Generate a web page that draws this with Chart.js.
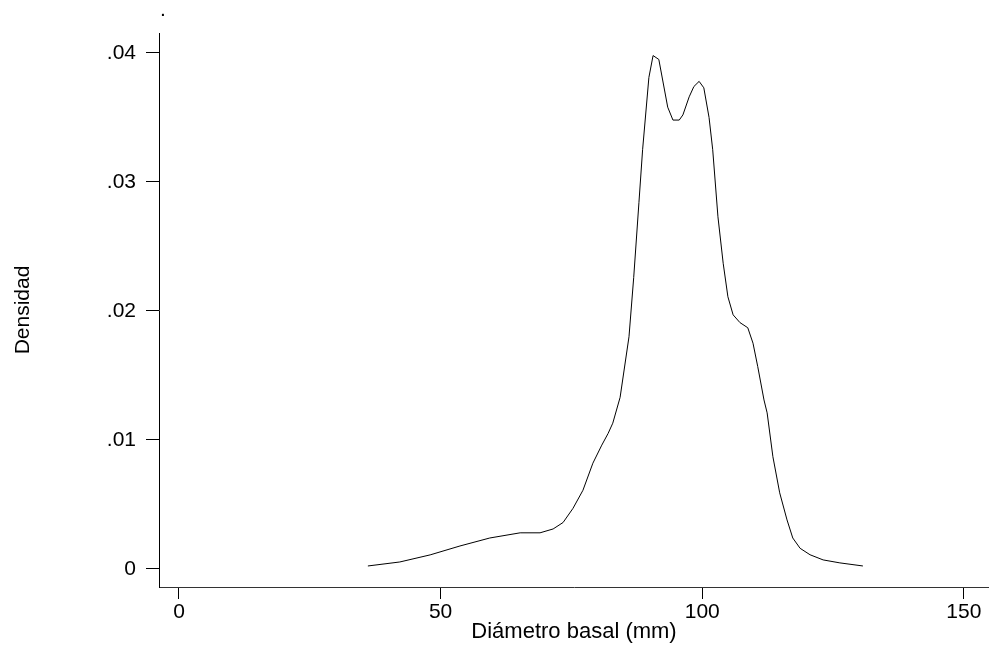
<!DOCTYPE html>
<html>
<head>
<meta charset="utf-8">
<script src="https://cdn.jsdelivr.net/npm/chart.js@4.4.1/dist/chart.umd.min.js"></script>
<style>
  html, body { margin: 0; padding: 0; background: #fff; }
  #wrap { width: 989px; height: 648px; position: relative; }
</style>
</head>
<body>
<div id="wrap"><canvas id="densityChart"></canvas></div>
<script>
// Diámetro basal (mm) -- densidad kernel
const diametro = [36.1, 42.2, 48.0, 53.7, 59.4, 65.2, 69.0, 71.5, 73.4, 75.3, 77.2, 79.1, 80.8, 82.0, 82.9, 84.3, 86.0, 86.9, 87.9, 88.6, 89.8, 90.6, 91.7, 93.4, 94.4, 95.6, 96.3, 97.5, 98.4, 99.4, 100.3, 101.3, 102.0, 103.0, 104.0, 104.9, 105.9, 107.2, 108.7, 109.7, 110.6, 111.8, 112.4, 113.5, 114.8, 116.2, 117.3, 118.7, 120.6, 123.1, 126.3, 130.7];
const densidad = [0.00023, 0.00054, 0.00109, 0.00178, 0.0024, 0.0028, 0.0028, 0.0031, 0.0036, 0.0047, 0.0061, 0.0082, 0.0096, 0.0105, 0.0113, 0.0133, 0.0180, 0.0226, 0.0284, 0.0325, 0.0381, 0.0398, 0.0395, 0.0358, 0.0348, 0.0348, 0.0352, 0.0366, 0.0374, 0.0378, 0.0373, 0.0350, 0.0325, 0.0273, 0.0237, 0.0211, 0.0197, 0.0191, 0.0187, 0.0175, 0.0157, 0.0131, 0.0121, 0.0087, 0.0059, 0.0038, 0.0024, 0.0016, 0.0011, 0.0007, 0.00047, 0.00023];
const xTicks = [0, 50, 100, 150];
const yTicks = [0, 0.01, 0.02, 0.03, 0.04];
const yTickLabels = ['0', '.01', '.02', '.03', '.04'];

const FONT = 'Liberation Sans, Arial, sans-serif';

// el punto suelto arriba a la izquierda (título vacío de Stata)
const dotTitle = {
  id: 'dotTitle',
  afterDraw(chart) {
    const c = chart.ctx;
    c.save();
    c.fillStyle = '#000';
    c.font = '21px ' + FONT;
    c.textBaseline = 'alphabetic';
    c.fillText('.', chart.chartArea.left + 1, 16);
    c.restore();
  }
};

const ctx = document.getElementById('densityChart');
new Chart(ctx, {
  type: 'line',
  data: {
    datasets: [{
      data: diametro.map((x, i) => ({ x: x, y: densidad[i] })),
      borderColor: '#000',
      borderWidth: 1,
      pointRadius: 0,
      fill: false,
      tension: 0
    }]
  },
  options: {
    responsive: true,
    maintainAspectRatio: false,
    animation: false,
    layout: { padding: { top: 33, right: 0, left: 0, bottom: 0 } },
    plugins: {
      legend: { display: false },
      tooltip: { enabled: false }
    },
    scales: {
      x: {
        type: 'linear',
        min: -3.82,
        max: 154.8,
        afterBuildTicks: scale => { scale.ticks = xTicks.map(v => ({ value: v })); },
        afterFit: scale => { scale.height = 61; },
        ticks: {
          autoSkip: false,
          maxRotation: 0,
          color: '#000',
          padding: 1,
          font: { family: FONT, size: 21 }
        },
        grid: {
          drawOnChartArea: false,
          tickLength: 12,
          tickColor: '#000'
        },
        border: { color: '#333', width: 1 },
        title: {
          display: true,
          text: 'Diámetro basal (mm)',
          color: '#000',
          font: { family: FONT, size: 22, lineHeight: 1.2 },
          padding: { top: 0, bottom: 3 }
        }
      },
      y: {
        min: -0.0014,
        max: 0.04155,
        afterBuildTicks: scale => { scale.ticks = yTicks.map(v => ({ value: v })); },
        afterFit: scale => { scale.width = 159; },
        ticks: {
          autoSkip: false,
          color: '#000',
          padding: 10,
          font: { family: FONT, size: 21 },
          callback: (v, i) => yTickLabels[i]
        },
        grid: {
          drawOnChartArea: false,
          tickLength: 13,
          tickColor: '#000'
        },
        border: { color: '#000', width: 1 },
        title: {
          display: true,
          text: 'Densidad',
          color: '#000',
          font: { family: FONT, size: 21, lineHeight: 1.2 },
          padding: { top: 11, bottom: 0 }
        }
      }
    }
  },
  plugins: [dotTitle]
});
</script>
</body>
</html>
